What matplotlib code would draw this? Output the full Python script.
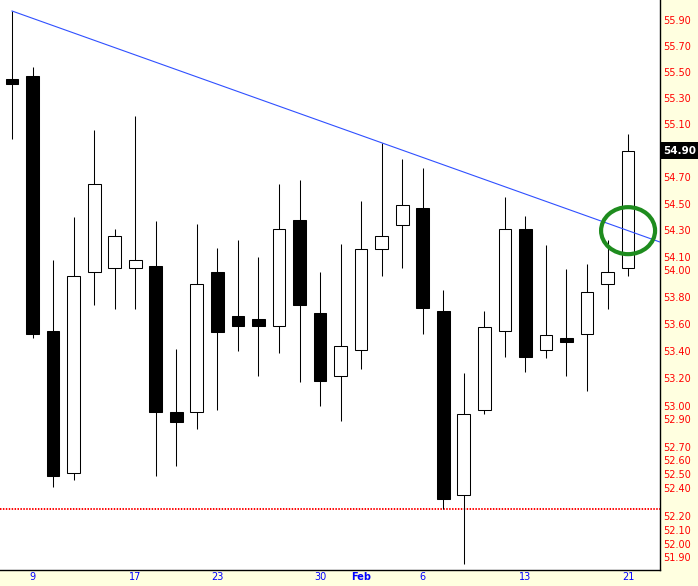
# Daily candlestick chart with a falling trendline, support line and breakout circle
import numpy as np
import matplotlib.pyplot as plt
from matplotlib.patches import Ellipse
from matplotlib.ticker import NullLocator
from matplotlib.transforms import ScaledTranslation, blended_transform_factory

# Trading days (Jan 6 .. Feb 21)
days = [6, 9, 10, 11, 12, 13, 17, 18, 19, 20, 23, 24, 25, 26, 27, 30, 31,
        1, 2, 3, 6, 7, 8, 9, 10, 13, 14, 15, 16, 17, 21]

opens = [55.45, 55.47, 53.55, 52.51, 53.99, 54.02, 54.02, 54.03, 52.95, 52.95,
         53.99, 53.66, 53.64, 53.59, 54.38, 53.68, 53.22, 53.41, 54.16, 54.34,
         54.47, 53.70, 52.35, 52.97, 53.55, 54.31, 53.41, 53.50, 53.53, 53.90, 54.02]
highs = [55.97, 55.54, 54.08, 54.40, 55.06, 54.31, 55.16, 54.37, 53.42, 54.35,
         54.17, 54.23, 54.10, 54.65, 54.68, 53.99, 54.20, 54.52, 54.96, 54.84,
         54.77, 53.85, 53.24, 53.70, 54.55, 54.41, 54.19, 54.01, 54.05, 54.23, 55.03]
lows = [54.99, 53.50, 52.41, 52.46, 53.74, 53.71, 53.71, 52.49, 52.56, 52.83,
        52.97, 53.40, 53.22, 53.39, 53.17, 53.00, 52.89, 53.27, 53.96, 54.02,
        53.53, 52.25, 51.85, 52.94, 53.36, 53.25, 53.35, 53.22, 53.11, 53.71, 53.96]
closes = [55.41, 53.53, 52.49, 53.96, 54.65, 54.26, 54.08, 52.95, 52.88, 53.90,
          53.54, 53.59, 53.59, 54.31, 53.74, 53.18, 53.44, 54.16, 54.26, 54.49,
          53.72, 52.32, 52.94, 53.58, 54.31, 53.36, 53.52, 53.47, 53.84, 53.99, 54.90]

tick_idx = [1, 6, 10, 15, 17, 20, 25, 30]
tick_labels = ['9', '17', '23', '30', 'Feb', '6', '13', '21']

price_ticks = [55.90, 55.70, 55.50, 55.30, 55.10, 54.70, 54.50, 54.30, 54.10,
               54.00, 53.80, 53.60, 53.40, 53.20, 53.00, 52.90, 52.70, 52.60,
               52.50, 52.40, 52.20, 52.10, 52.00, 51.90]

support = 52.25
trend_points = [0, 18]   # candles whose highs define the trendline
circle_at = 30

o = np.array(opens)
h = np.array(highs)
l = np.array(lows)
c = np.array(closes)
x = np.arange(len(o))

fig = plt.figure(figsize=(6.98, 5.86), dpi=100, facecolor='#FFFFE0')
ax = fig.add_axes([0, 16 / 586, 659.5 / 698, 570 / 586])
ax.set_facecolor('white')
ax.set_yscale('log')
ax.set_xlim(-0.585, 31.53)
ax.set_ylim(51.81, 56.055)

# candles
up = c >= o
ax.vlines(x, l, h, color='black', lw=0.75, zorder=2)
ax.bar(x, np.abs(c - o), bottom=np.minimum(o, c), width=0.62,
       color=np.where(up, 'white', 'black'), edgecolor='black',
       linewidth=0.75, zorder=3)

# falling trendline through two highs, extended to the right edge
i0, i1 = trend_points
slope = (np.log(h[i1]) - np.log(h[i0])) / (i1 - i0)
lx = np.array([i0, ax.get_xlim()[1]])
ax.plot(lx, np.exp(np.log(h[i0]) + slope * (lx - i0)), color='#3050FF', lw=0.8, zorder=4)

# support line
ax.axhline(support, color='red', lw=1.4, linestyle=(0, (0.75, 0.75)), zorder=1)

# breakout circle
yc = np.exp(np.log(h[i0]) + slope * (circle_at - i0))
ell = Ellipse((0, 0), 0.54, 0.47, fill=False, edgecolor='#1E8C1E', lw=3,
              transform=fig.dpi_scale_trans + ScaledTranslation(circle_at, yc, ax.transData),
              zorder=5)
ax.add_patch(ell)

# axes styling
ax.spines['left'].set_visible(False)
ax.spines['top'].set_visible(False)
ax.spines['right'].set_linewidth(1.0)
ax.spines['bottom'].set_linewidth(1.0)

ax.yaxis.tick_right()
ax.yaxis.set_minor_locator(NullLocator())
ax.set_yticks(price_ticks)
ax.set_yticklabels([f'{p:.2f}' for p in price_ticks])
ax.tick_params(axis='y', length=0, pad=2.5, labelsize=7, labelcolor='red')

ax.set_xticks(tick_idx)
ax.set_xticklabels(tick_labels)
ax.tick_params(axis='x', length=0, pad=1.5, labelsize=7, labelcolor='blue')
for lab in ax.get_xticklabels():
    if lab.get_text() == 'Feb':
        lab.set_fontweight('bold')

# last price tag
trans = blended_transform_factory(ax.transAxes, ax.transData)
ax.text(1.0055, c[-1], f'{c[-1]:.2f}', transform=trans, ha='left', va='center',
        color='white', fontweight='bold', fontsize=7.5,
        bbox=dict(facecolor='black', edgecolor='none', pad=2.5))

fig.savefig('out.png', dpi=100, facecolor=fig.get_facecolor())
